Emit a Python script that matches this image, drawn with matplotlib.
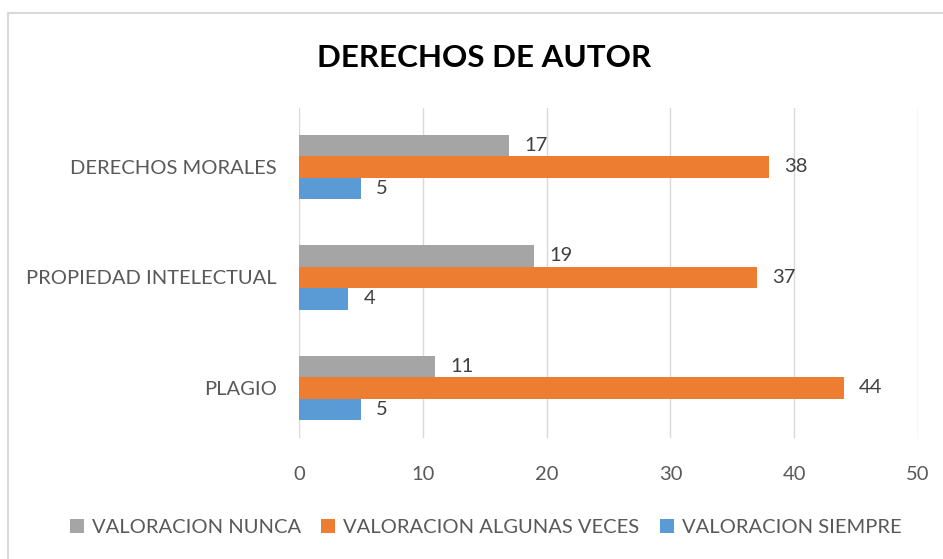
import matplotlib.pyplot as plt
import numpy as np
from matplotlib.lines import Line2D

categorias = ["PLAGIO", "PROPIEDAD INTELECTUAL", "DERECHOS MORALES"]
nunca = [11, 19, 17]
algunas = [44, 37, 38]
siempre = [5, 4, 5]

plt.rcParams['font.family'] = ['Lato', 'DejaVu Sans']
fig = plt.figure(figsize=(9.43, 5.59), dpi=100)
ax = fig.add_axes([0.317, 0.2165, 0.6565, 0.5905])

y = np.arange(len(categorias))
h = 0.195
series = [
    (nunca, "VALORACION NUNCA", "#A5A5A5", h),
    (algunas, "VALORACION ALGUNAS VECES", "#ED7D31", 0),
    (siempre, "VALORACION SIEMPRE", "#5B9BD5", -h),
]
for vals, name, col, off in series:
    bars = ax.barh(y + off, vals, height=h, color=col, label=name, zorder=3)
    for b, v in zip(bars, vals):
        ax.text(v + 1.2, b.get_y() + h / 2, str(v), va="center", ha="left",
                fontsize=14.5, color="#404040")

ax.set_xlim(0, 50)
ax.set_ylim(-0.4525, 2.534)
ax.set_xticks(range(0, 51, 10))
ax.set_yticks(y)
ax.set_yticklabels(categorias)
ax.tick_params(length=0, labelsize=14.5, colors="#595959")
ax.tick_params(axis="x", pad=20)
ax.tick_params(axis="y", pad=16)
ax.grid(axis="x", color="#D9D9D9", lw=1, zorder=0)
for s in ax.spines.values():
    s.set_visible(False)

fig.text(0.513, 0.896, "DERECHOS DE AUTOR", ha="center", va="center",
         fontsize=22.6, fontweight="bold", color="black")

leg = fig.legend(loc="center", bbox_to_anchor=(0.515, 0.056), ncol=3,
                 frameon=False, fontsize=14.5, handlelength=0.7, handleheight=0.7,
                 columnspacing=1.0, handletextpad=0.4)
for t in leg.get_texts():
    t.set_color("#595959")

# chart border
fig.add_artist(Line2D([0.009, 1], [0.977, 0.977], color="#D9D9D9", lw=1.5))
fig.add_artist(Line2D([0.009, 0.009], [0, 0.977], color="#D9D9D9", lw=1.5))

fig.savefig("out.png", dpi=100)
